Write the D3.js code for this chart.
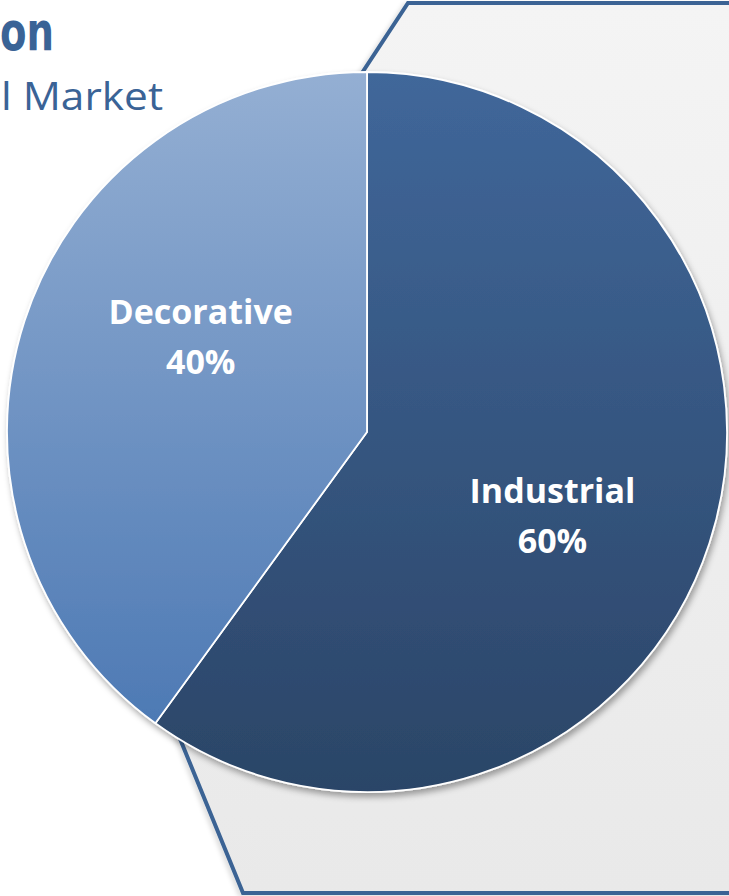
<!DOCTYPE html>
<html>
<head>
<meta charset="utf-8">
<script src="https://cdn.jsdelivr.net/npm/d3@7"></script>
<style>
  html, body { margin: 0; padding: 0; background: #ffffff; }
  svg { display: block; }
</style>
</head>
<body>
<div id="chart"></div>
<script>
// Market split by segment
const categories = ["Industrial", "Decorative"];
const shares = [60, 40];
const shareLabels = ["60%", "40%"];

// Heading fragments shown at the top-left
const titleBold = "on";
const titleSub = "l Market";

const W = 729, H = 896;
const cx = 367, cy = 432, R = 360;

const svg = d3.select("#chart").append("svg")
  .attr("width", W).attr("height", H);

const defs = svg.append("defs");

// Background panel gradient
const bg = defs.append("linearGradient").attr("id", "panelFill")
  .attr("x1", 0).attr("y1", 0).attr("x2", 0).attr("y2", 1);
bg.append("stop").attr("offset", 0).attr("stop-color", "#f4f4f4");
bg.append("stop").attr("offset", 1).attr("stop-color", "#e9e9e9");

// Slice gradients (vertical, across the pie's bounding box, in the pie group's space)
const sliceStops = {
  Industrial: ["#40679a", "#2b4567"],
  Decorative: ["#94afd3", "#4674b1"]
};
categories.forEach((c, i) => {
  const g = defs.append("linearGradient").attr("id", "grad" + i)
    .attr("gradientUnits", "userSpaceOnUse")
    .attr("x1", 0).attr("y1", -R).attr("x2", 0).attr("y2", R);
  g.append("stop").attr("offset", 0).attr("stop-color", sliceStops[c][0]);
  g.append("stop").attr("offset", 1).attr("stop-color", sliceStops[c][1]);
});

const shadow = defs.append("filter").attr("id", "pieShadow")
  .attr("x", "-10%").attr("y", "-10%").attr("width", "120%").attr("height", "120%");
shadow.append("feDropShadow").attr("dx", 2).attr("dy", 4)
  .attr("stdDeviation", 3).attr("flood-color", "#000").attr("flood-opacity", 0.35);

const panelShadow = defs.append("filter").attr("id", "panelShadow")
  .attr("x", "-10%").attr("y", "-10%").attr("width", "120%").attr("height", "120%");
panelShadow.append("feDropShadow").attr("dx", -3).attr("dy", 2)
  .attr("stdDeviation", 2).attr("flood-color", "#000").attr("flood-opacity", 0.12);

// Hexagonal backdrop panel (right part runs off the page)
const panel = [[408, 3], [1000, 3], [1100, 448], [1000, 893], [243, 893], [82, 499]];
svg.append("path")
  .attr("d", d3.line()(panel) + "Z")
  .attr("fill", "url(#panelFill)")
  .attr("stroke", "#3b6394")
  .attr("stroke-width", 4)
  .attr("stroke-linejoin", "miter")
  .attr("filter", "url(#panelShadow)");

// Heading
svg.append("text")
  .attr("x", 0).attr("y", 50)
  .attr("font-family", "'DejaVu Sans', sans-serif")
  .attr("font-weight", 700)
  .attr("font-size", 53)
  .attr("fill", "#3a6396")
  .attr("textLength", 54)
  .attr("lengthAdjust", "spacingAndGlyphs")
  .text(titleBold);

svg.append("text")
  .attr("x", 1).attr("y", 110)
  .attr("font-family", "'Open Sans', sans-serif")
  .attr("font-weight", 400)
  .attr("font-size", 38)
  .attr("fill", "#3a6396")
  .attr("textLength", 162)
  .attr("lengthAdjust", "spacingAndGlyphs")
  .text(titleSub);

// Pie
const pie = d3.pie().sort(null).value(d => d)
  .startAngle(0).endAngle(2 * Math.PI);
const arcs = pie(shares);
const arc = d3.arc().innerRadius(0).outerRadius(R);

const g = svg.append("g").attr("transform", `translate(${cx},${cy})`);

g.append("g").attr("filter", "url(#pieShadow)")
  .selectAll("path")
  .data(arcs)
  .join("path")
  .attr("d", arc)
  .attr("fill", (d, i) => `url(#grad${i})`)
  .attr("stroke", "#ffffff")
  .attr("stroke-width", 1.8)
  .attr("stroke-linejoin", "round");

// Data labels: placed along each slice's mid-angle, nudged as a best-fit layout
const labelRadius = [203, 192];
const labelNudge = [6, 12].map(a => a * Math.PI / 180);

const labels = g.selectAll("g.lbl")
  .data(arcs)
  .join("g")
  .attr("class", "lbl")
  .attr("transform", (d, i) => {
    const a = (d.startAngle + d.endAngle) / 2 + labelNudge[i];
    const r = labelRadius[i];
    return `translate(${r * Math.sin(a)},${-r * Math.cos(a)})`;
  });

labels.append("text")
  .attr("text-anchor", "middle")
  .attr("y", -12)
  .attr("font-family", "'Open Sans', sans-serif")
  .attr("font-weight", 700)
  .attr("font-size", 34)
  .attr("fill", "#ffffff")
  .text((d, i) => categories[i]);

labels.append("text")
  .attr("text-anchor", "middle")
  .attr("y", 38)
  .attr("font-family", "'Open Sans', sans-serif")
  .attr("font-weight", 700)
  .attr("font-size", 34)
  .attr("fill", "#ffffff")
  .text((d, i) => shareLabels[i]);
</script>
</body>
</html>
